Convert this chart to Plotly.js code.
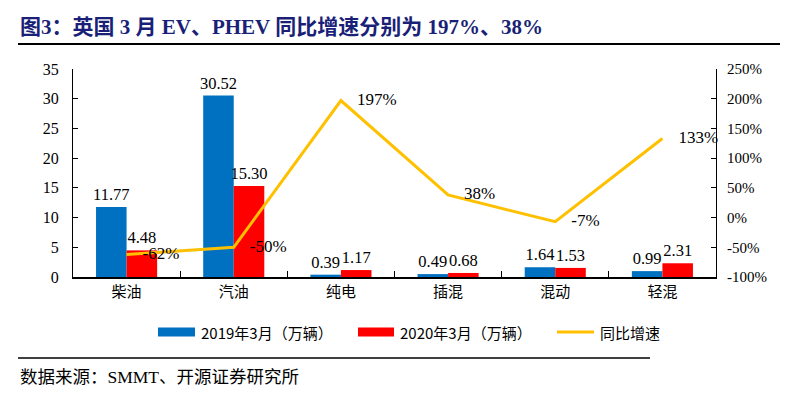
<!DOCTYPE html>
<html>
<head>
<meta charset="utf-8">
<script src="https://cdn.plot.ly/plotly-3.0.1.min.js"></script>
<style>html,body{margin:0;padding:0;background:#fff;}#chart{width:792px;height:395px;}</style>
</head>
<body>
<div id="chart"></div>
<script>
const categories = ['柴油', '汽油', '纯电', '插混', '混动', '轻混'];
const sales2019 = [11.77, 30.52, 0.39, 0.49, 1.64, 0.99];
const sales2020 = [4.48, 15.30, 1.17, 0.68, 1.53, 2.31];
const growthPct = [-62, -50, 197, 38, -7, 133];
const leftTicks = [0, 5, 10, 15, 20, 25, 30, 35];
const rightTicks = [-100, -50, 0, 50, 100, 150, 200, 250];
const seriesNames = ['2019年3月（万辆）', '2020年3月（万辆）', '同比增速'];
const titleText = '图3：英国 3 月 EV、PHEV 同比增速分别为 197%、38%';
const sourceText = '数据来源：SMMT、开源证券研究所';

const serif = 'Liberation Serif, Times New Roman, Noto Sans CJK SC, serif';
const cjk = 'Noto Sans CJK SC, sans-serif';
const blue = '#0070C0', red = '#FF0000', yellow = '#FFC000';

const traces = [
  {type: 'bar', x: categories, y: sales2019, name: seriesNames[0], marker: {color: blue},
   text: sales2019.map(v => v.toFixed(2)), textposition: 'outside', cliponaxis: false, constraintext: 'none',
   textfont: {family: serif, size: 16.5, color: '#000'}, showlegend: false},
  {type: 'bar', x: categories, y: sales2020, name: seriesNames[1], marker: {color: red},
   text: sales2020.map(v => v.toFixed(2)), textposition: 'outside', cliponaxis: false, constraintext: 'none',
   textfont: {family: serif, size: 16.5, color: '#000'}, showlegend: false},
  {type: 'scatter', mode: 'lines+markers+text', x: categories, y: growthPct, yaxis: 'y2', name: seriesNames[2],
   line: {color: yellow, width: 3}, marker: {size: 24, opacity: 0},
   text: growthPct.map(v => v + '%'), textposition: 'middle right', cliponaxis: false,
   textfont: {family: serif, size: 17, color: '#000'}, showlegend: false}
];

const W = 792, H = 395, L = 73, R = 716, T = 69, B = 277;
const px = x => (x - L) / (R - L);
const py = y => (B - y) / (B - T);

const legendItems = [
  {x0: 158, x1: 195, tx: 199, color: blue, kind: 'rect', label: seriesNames[0]},
  {x0: 358, x1: 394, tx: 398, color: red, kind: 'rect', label: seriesNames[1]},
  {x0: 557, x1: 594, tx: 598, color: yellow, kind: 'line', label: seriesNames[2]}
];
const legY = 332;

const shapes = [
  {type: 'line', xref: 'paper', yref: 'paper', x0: px(18), x1: px(780), y0: py(44), y1: py(44), line: {color: '#000', width: 2}},
  {type: 'line', xref: 'paper', yref: 'paper', x0: px(18), x1: px(650), y0: py(358), y1: py(358), line: {color: '#000', width: 1.5}}
];
const annotations = [
  {xref: 'paper', yref: 'paper', x: px(18), y: py(27), xanchor: 'left', yanchor: 'middle', showarrow: false,
   text: '<b>' + titleText + '</b>', font: {family: serif, size: 21, color: '#1a1f77'}},
  {xref: 'paper', yref: 'paper', x: px(18), y: py(377), xanchor: 'left', yanchor: 'middle', showarrow: false,
   text: sourceText, font: {family: serif, size: 17.5, color: '#000'}}
];
legendItems.forEach(it => {
  if (it.kind === 'rect') {
    shapes.push({type: 'rect', xref: 'paper', yref: 'paper', x0: px(it.x0), x1: px(it.x1), y0: py(legY - 4.5), y1: py(legY + 4.5), fillcolor: it.color, line: {width: 0}});
  } else {
    shapes.push({type: 'line', xref: 'paper', yref: 'paper', x0: px(it.x0), x1: px(it.x1), y0: py(legY), y1: py(legY), line: {color: it.color, width: 3}});
  }
  annotations.push({xref: 'paper', yref: 'paper', x: px(it.tx), y: py(legY), xanchor: 'left', yanchor: 'middle', showarrow: false,
    text: it.label, font: {family: cjk, size: 15, color: '#000'}});
});

const layout = {
  width: W, height: H,
  margin: {l: L, r: W - R, t: T, b: H - B, pad: 0},
  paper_bgcolor: '#fff', plot_bgcolor: '#fff',
  barmode: 'group', bargap: 0.43, bargroupgap: 0,
  showlegend: false,
  xaxis: {type: 'category', showline: true, linecolor: '#000', linewidth: 1.5, showgrid: false, zeroline: false,
    ticks: 'inside', tickson: 'boundaries', ticklen: 6, tickcolor: '#000',
    tickfont: {family: cjk, size: 15, color: '#000'}},
  yaxis: {range: [0, 35], tickvals: leftTicks, ticktext: leftTicks.map(String), showline: true, linecolor: '#000', linewidth: 1,
    showgrid: false, zeroline: false, ticks: 'inside', ticklen: 5, tickcolor: '#000', ticklabelstandoff: 10,
    tickfont: {family: serif, size: 16, color: '#000'}},
  yaxis2: {overlaying: 'y', side: 'right', range: [-100, 250], tickvals: rightTicks, ticktext: rightTicks.map(v => v + '%'),
    showline: true, linecolor: '#000', linewidth: 1, showgrid: false, zeroline: false, ticks: 'inside', ticklen: 5, tickcolor: '#000',
    ticklabelstandoff: 7, tickfont: {family: serif, size: 15, color: '#000'}},
  shapes: shapes,
  annotations: annotations
};

Plotly.newPlot('chart', traces, layout, {displayModeBar: false, staticPlot: true});
</script>
</body>
</html>
